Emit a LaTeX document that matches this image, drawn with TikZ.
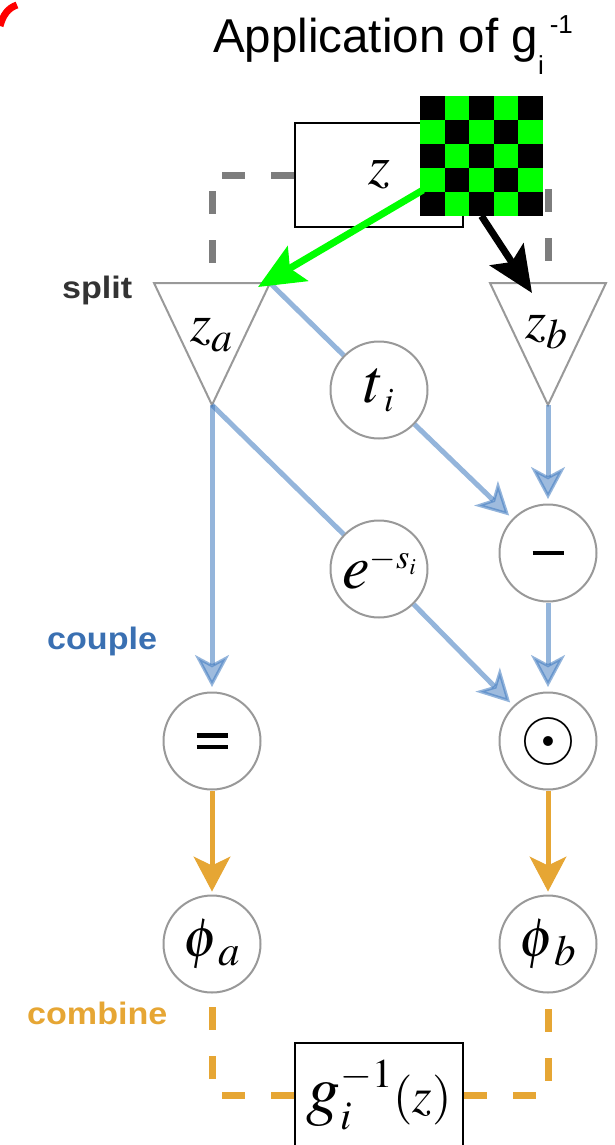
\documentclass[tikz,border=0pt]{standalone}
\usepackage{mathptmx}
\usepackage[no-math]{fontspec}
\newfontfamily\lblfont[FakeStretch=1.1]{Liberation Sans}
\newfontfamily\ttlfont{Liberation Sans}
\usetikzlibrary{arrows.meta}
\definecolor{cgrey}{RGB}{153,153,153}
\definecolor{cdash}{RGB}{125,125,125}
\definecolor{cblue}{RGB}{61,120,190}
\definecolor{corange}{RGB}{230,166,52}
\definecolor{ccouple}{RGB}{58,112,178}
\definecolor{cgreen}{RGB}{0,255,0}
\definecolor{csplit}{RGB}{51,51,51}
\tikzset{
  circ/.style={circle, draw=cgrey, line width=2pt, minimum size=97pt, inner sep=0pt, fill=white},
  tri/.style={draw=cgrey, line width=2pt, line join=miter},
  boxnode/.style={draw=black, line width=2.5pt, fill=white, minimum width=168pt, minimum height=104pt, inner sep=0pt},
  greydash/.style={draw=cdash, line width=7pt, dash pattern=on 23pt off 26pt},
  orangedash/.style={draw=corange, line width=7pt, dash pattern=on 23pt off 26pt},
  blueline/.style={draw=cblue, draw opacity=0.55, line width=5pt},
  bluearrow/.style={blueline, fill opacity=0.5, shorten >=4.5pt, -{Stealth[length=32pt, width=34pt, inset=9pt, line width=3pt]}},
  orangearrow/.style={draw=corange, line width=5pt, shorten >=3pt, -{Stealth[length=35pt, width=37pt, inset=9pt, line width=1pt]}},
  bigarrow/.style={line width=7pt, -{Stealth[length=46pt, width=40pt, inset=9pt]}},
  lbl/.style={font=\lblfont\bfseries\fontsize{31}{31}\selectfont, inner sep=0pt, anchor=base west},
}
\begin{document}
\begin{tikzpicture}[x=1pt,y=-1pt]
\useasboundingbox (0,0) rectangle (615,1145);
% red arc fragment
\draw[red, line width=7pt] (0,26) .. controls (3,15) and (8,8) .. (17,5);
% title
\node[anchor=base west, inner sep=0pt, font=\ttlfont\fontsize{47.5}{47.5}\selectfont] (title) at (213,53)
  {Application of g\raisebox{-22pt}{\fontsize{26}{26}\selectfont i}\hspace{6pt}\raisebox{19pt}{\fontsize{26}{26}\selectfont -1}};
% triangle corner coordinates
\coordinate (zaL) at (154,283); \coordinate (zaR) at (270,283); \coordinate (zaA) at (212,405);
\coordinate (zaT) at (212,283);
\coordinate (zbL) at (490,283); \coordinate (zbR) at (606,283); \coordinate (zbA) at (548,405);
\coordinate (zbT) at (548,283);
% z box and grey dashes
\node[boxnode] (z) at (379,175) {};
\draw[greydash] (z.west) -| (zaT);
\draw[greydash] (z.east) -| (zbT);
\node[boxnode, font=\fontsize{56}{56}\selectfont] (zb0) at (379,175) {$z$};
% triangles
\draw[tri] (zaL) -- (zaR) -- (zaA) -- cycle;
\draw[tri] (zbL) -- (zbR) -- (zbA) -- cycle;
\node[inner sep=0pt, font=\fontsize{54}{54}\selectfont] (za) at (211,335) {$z$\raisebox{-10pt}{\fontsize{42}{42}\selectfont$a$}};
\node[inner sep=0pt, font=\fontsize{54}{54}\selectfont] (zb) at (546,332) {$z$\raisebox{-10pt}{\fontsize{42}{42}\selectfont$b$}};
% labels
\node[lbl, text=csplit] (split) at (62,298) {split};
\node[lbl, text=ccouple] (couple) at (47,649) {couple};
\node[lbl, text=corange] (combine) at (27,1024) {combine};
% circles
\node[circ, font=\fontsize{62}{62}\selectfont] (t) at (379,390) {$t$\raisebox{-9pt}{\fontsize{34}{34}\selectfont$i$}};
\node[circ, font=\fontsize{62}{62}\selectfont] (e) at (379,569) {\raisebox{-6pt}{$e$\raisebox{20pt}{\fontsize{34}{34}\selectfont$-s$\raisebox{-6pt}{\fontsize{23}{23}\selectfont$i$}}}};
\node[circ] (minus) at (548,553) {\rule{31pt}{4.5pt}};
\node[circ] (eq) at (212,741) {\vbox{\hrule width 31pt height 4.5pt\vskip 7pt\hrule width 31pt height 4.5pt}};
\node[circ, font=\fontsize{72}{72}\selectfont] (odot) at (548,741) {$\odot$};
\node[circ, font=\fontsize{55}{55}\selectfont] (phia) at (212,944) {$\phi$\raisebox{-9pt}{\fontsize{43}{43}\selectfont$a$}};
\node[circ, font=\fontsize{55}{55}\selectfont] (phib) at (548,944) {$\phi$\raisebox{-9pt}{\fontsize{43}{43}\selectfont$b$}};
% bottom box and orange dashes
\node[boxnode] (g0) at (379,1095) {};
\draw[orangedash] (g0.west) -| (phia);
\draw[orangedash] (g0.east) -| (phib);
\node[boxnode] (g) at (379,1095) {{\fontsize{68}{68}\selectfont$g_{\scriptscriptstyle i}^{\scriptscriptstyle -1}$}{\fontsize{50}{50}\selectfont$(z)$}};
% blue connectors
\draw[blueline] (zaR) -- (t);
\draw[bluearrow] (t) -- (minus);
\draw[blueline] (zaA) -- (e);
\draw[bluearrow] (e) -- (odot);
\draw[bluearrow] (zaA) -- (eq);
\draw[bluearrow] (zbA) -- (minus);
\draw[bluearrow] (minus) -- (odot);
% orange connectors
\draw[orangearrow] (eq) -- (phia);
\draw[orangearrow] (odot) -- (phib);
% checkerboard
\node[minimum width=123pt, minimum height=120pt, inner sep=0pt, outer sep=0pt, fill=cgreen] (chk) at (481.5,156) {};
\foreach \r in {0,...,4}{
  \foreach \c in {0,...,4}{
    \pgfmathtruncatemacro\pty{mod(\r+\c,2)}
    \ifnum\pty=0 \fill[black] ({420+24.6*\c},{96+24*\r}) rectangle +(24.6,24);\fi
  }
}
% green and black arrows
\coordinate (gstart) at (423,190);
\coordinate (gtip) at (258,287);
\coordinate (btip) at (532,293);
\draw[bigarrow, draw=cgreen, fill=cgreen] (gstart) -- (gtip);
\draw[bigarrow, draw=black, fill=black] (chk.south) -- (btip);
\end{tikzpicture}
\end{document}
